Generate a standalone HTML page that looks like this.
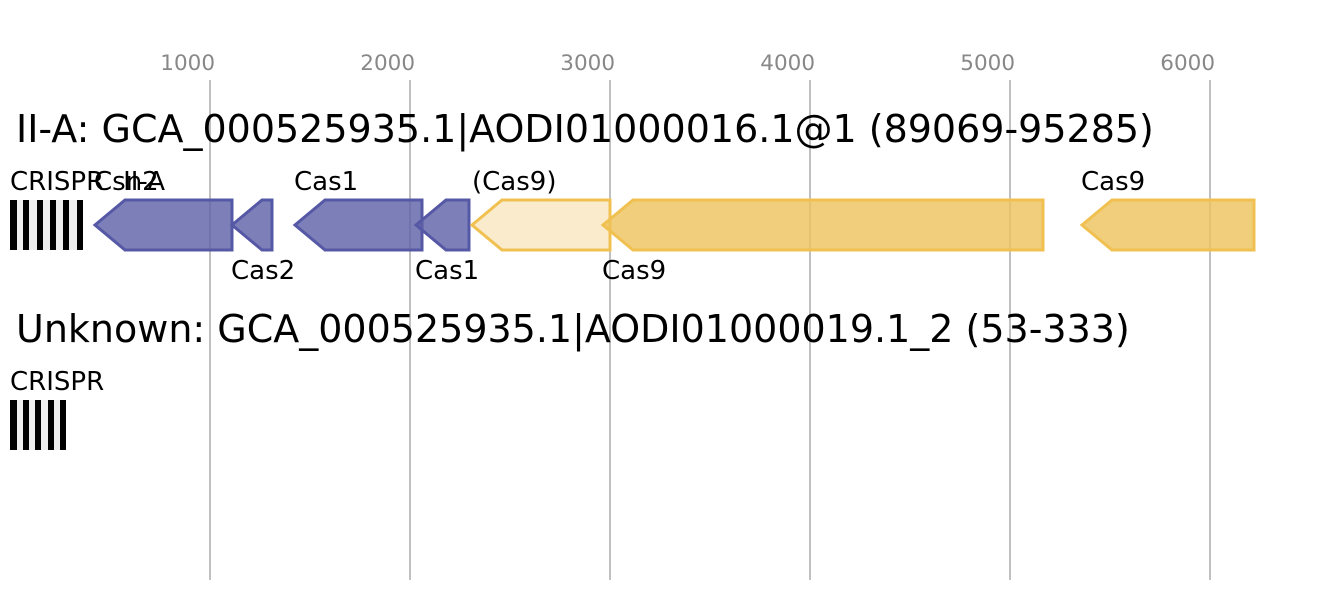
<!DOCTYPE html>
<html><head><meta charset="utf-8"><style>
html,body{margin:0;padding:0;background:#fff;}
svg{display:block;font-family:"DejaVu Sans","Liberation Sans",sans-serif;}
</style></head><body>
<svg width="1343" height="600" viewBox="0 0 1343 600" xmlns="http://www.w3.org/2000/svg">
<g stroke="#c0c0c0" stroke-width="2">
<line x1="210" y1="80" x2="210" y2="580"/>
<line x1="410" y1="80" x2="410" y2="580"/>
<line x1="610" y1="80" x2="610" y2="580"/>
<line x1="810" y1="80" x2="810" y2="580"/>
<line x1="1010" y1="80" x2="1010" y2="580"/>
<line x1="1210" y1="80" x2="1210" y2="580"/>
</g>
<g fill="#888" font-size="21.5" text-anchor="end">
<text x="215" y="70">1000</text>
<text x="415" y="70">2000</text>
<text x="615" y="70">3000</text>
<text x="815" y="70">4000</text>
<text x="1015" y="70">5000</text>
<text x="1215" y="70">6000</text>
</g>
<text x="16" y="142" font-size="38" fill="#000">II-A: GCA_000525935.1|AODI01000016.1@1 (89069-95285)</text>
<text x="16" y="342" font-size="38" fill="#000">Unknown: GCA_000525935.1|AODI01000019.1_2 (53-333)</text>
<rect x="10" y="200" width="73" height="50" fill="#eee"/>
<g fill="#000">
<rect x="10" y="200" width="7" height="50"/><rect x="23" y="200" width="6" height="50"/><rect x="37" y="200" width="6" height="50"/><rect x="50" y="200" width="6" height="50"/><rect x="63" y="200" width="6" height="50"/><rect x="77" y="200" width="6" height="50"/>
</g>
<rect x="10" y="400" width="56" height="50" fill="#eee"/>
<g fill="#000">
<rect x="10" y="400" width="7" height="50"/><rect x="23" y="400" width="6" height="50"/><rect x="35" y="400" width="6" height="50"/><rect x="48" y="400" width="6" height="50"/><rect x="60" y="400" width="6" height="50"/>
</g>
<g stroke-width="3" stroke-linejoin="miter">
<g fill="#5d5fa6" fill-opacity="0.8" stroke="#5558a5">
<polygon points="95,225 125,200 232,200 232,250 125,250"/>
<polygon points="232,225 262,200 272,200 272,250 262,250"/>
<polygon points="295,225 325,200 422,200 422,250 325,250"/>
<polygon points="416,225 446,200 469,200 469,250 446,250"/>
</g>
<polygon points="472,225 502,200 610,200 610,250 502,250" fill="#faebcc" stroke="#f0c050"/>
<g fill="#eec25a" fill-opacity="0.8" stroke="#f0c050">
<polygon points="603,225 633,200 1043,200 1043,250 633,250"/>
<polygon points="1082,225 1112,200 1254,200 1254,250 1112,250"/>
</g>
</g>
<g font-size="26" fill="#000">
<text x="10" y="190">CRISPR</text>
<text x="94" y="190">Csn2</text>
<text x="165" y="190" text-anchor="end">II-A</text>
<text x="294" y="190">Cas1</text>
<text x="472" y="190">(Cas9)</text>
<text x="1081" y="190">Cas9</text>
<text x="231" y="279">Cas2</text>
<text x="415" y="279">Cas1</text>
<text x="602" y="279">Cas9</text>
<text x="10" y="390">CRISPR</text>
</g>
</svg>
</body></html>
